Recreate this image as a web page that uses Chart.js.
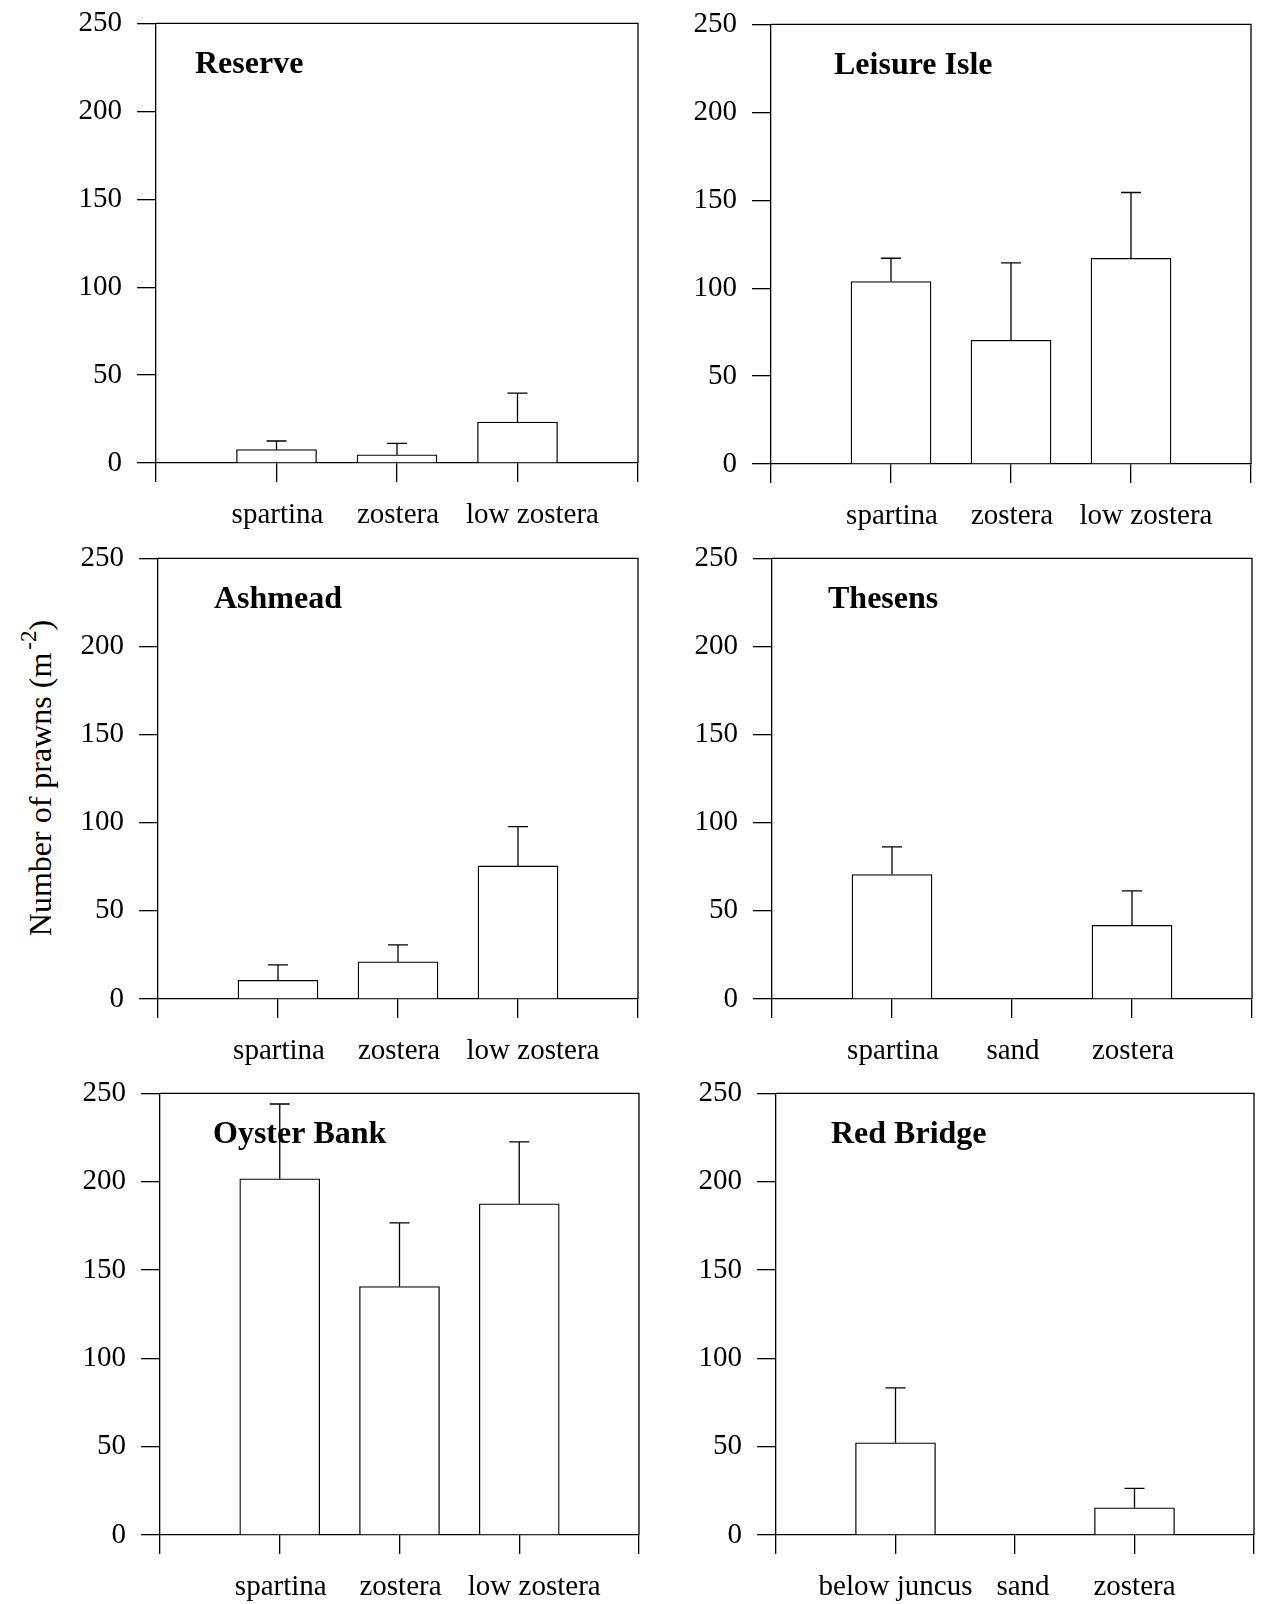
<!DOCTYPE html>
<html>
<head>
<meta charset="utf-8">
<script src="https://cdn.jsdelivr.net/npm/chart.js@4.4.0/dist/chart.umd.min.js"></script>
<style>
  body { margin: 0; background: #fff; width: 1262px; height: 1604px; position: relative; overflow: hidden; }
  canvas { position: absolute; }
  #ylab {
    position: absolute; left: 36px; top: 778px;
    font-family: "Liberation Serif", "Times New Roman", serif; font-size: 32px; color: #000;
    white-space: nowrap; line-height: 1;
    transform: translate(-50%, -50%) rotate(-90deg);
  }
  #ylab sup { font-size: 23px; vertical-align: 15px; margin-left: 3px; }
</style>
</head>
<body>
<div id="ylab">Number of prawns (m<sup>-2</sup>)</div>
<script>
// values (mean and upper error bar length)
var sites = ['Reserve', 'Leisure Isle', 'Ashmead', 'Thesens', 'Oyster Bank', 'Red Bridge'];
var habitats = [
  ['spartina', 'zostera', 'low zostera'],
  ['spartina', 'zostera', 'low zostera'],
  ['spartina', 'zostera', 'low zostera'],
  ['spartina', 'sand', 'zostera'],
  ['spartina', 'zostera', 'low zostera'],
  ['below juncus', 'sand', 'zostera']
];
var means = [
  [7.6, 4.7, 23.3],
  [103.8, 70.4, 117],
  [10.6, 21.1, 75.5],
  [70.6, 0, 41.8],
  [201.7, 140.7, 187.5],
  [52.2, 0, 15.4]
];
var errors = [
  [4.9, 6.5, 16.4],
  [13.2, 44, 37.4],
  [8.8, 9.6, 22.3],
  [15.7, 0, 19.6],
  [42.3, 36, 35.1],
  [31.1, 0, 11]
];
var yMax = 250;
var yStep = 50;

// plot area of each panel on the page: left, top, right, bottom(zero line); title offset
var boxes = [
  [156, 23, 638, 463, 39],
  [771, 24, 1251, 464, 63],
  [158, 558, 638, 999, 56],
  [772, 558, 1252, 999, 56],
  [160, 1093, 639, 1535, 53],
  [776, 1093, 1254, 1535, 55]
];
// horizontal nudge of each category label from its tick
var labelShift = [
  [1, 1, 15],
  [1, 1, 15],
  [1, 1, 15],
  [1, 1, 1],
  [1, 1, 15],
  [0, 8, 0]
];

var AX_W = 80, AX_H = 80, PAD = 30;
var LW = 1.3;
var SERIF = '"Liberation Serif", "Times New Roman", serif';

Chart.defaults.font.family = SERIF;
Chart.defaults.color = '#000';

var panelPlugin = {
  id: 'panel',
  afterDatasetsDraw: function (chart, args, opts) {
    var ctx = chart.ctx, a = chart.chartArea;
    var xs = chart.scales.x, ys = chart.scales.y;
    var meta = chart.getDatasetMeta(0);
    ctx.save();
    ctx.strokeStyle = '#000';
    ctx.lineWidth = LW;
    // top and right edges of the frame
    ctx.beginPath();
    ctx.moveTo(a.left, a.top);
    ctx.lineTo(a.right, a.top);
    ctx.lineTo(a.right, a.bottom);
    ctx.stroke();
    // error bars (upper only)
    opts.errs.forEach(function (e, i) {
      if (!e) return;
      var bar = meta.data[i + 1];
      var m = opts.vals[i];
      var y0 = ys.getPixelForValue(m);
      var y1 = ys.getPixelForValue(m + e);
      ctx.beginPath();
      ctx.moveTo(bar.x, y0);
      ctx.lineTo(bar.x, y1);
      ctx.moveTo(bar.x - 10, y1);
      ctx.lineTo(bar.x + 10, y1);
      ctx.stroke();
    });
    ctx.fillStyle = '#000';
    // category labels
    ctx.font = '29px ' + SERIF;
    ctx.textAlign = 'center';
    ctx.textBaseline = 'alphabetic';
    opts.cats.forEach(function (c, i) {
      ctx.fillText(c, xs.getPixelForValue(i + 1) + opts.shift[i], a.bottom + 60);
    });
    // site name
    ctx.font = 'bold 32px ' + SERIF;
    ctx.textAlign = 'left';
    ctx.textBaseline = 'middle';
    ctx.fillText(opts.title, a.left + opts.tx, a.top + 41);
    ctx.restore();
  }
};

function makeChart(cv, p, w, h) {
  var b = boxes[p];
  cv.width = w; cv.height = h;
  var labels = [''].concat(habitats[p], ['']);
  var data = [null].concat(means[p], [null]);
  return new Chart(cv, {
    type: 'bar',
    data: {
      labels: labels,
      datasets: [{
        data: data,
        backgroundColor: '#fff',
        borderColor: '#000',
        borderWidth: LW,
        barThickness: 80
      }]
    },
    options: {
      responsive: false,
      maintainAspectRatio: false,
      animation: false,
      devicePixelRatio: 1,
      layout: { padding: { top: PAD, right: PAD, left: 0, bottom: 0 } },
      plugins: {
        legend: { display: false },
        tooltip: { enabled: false },
        panel: { title: sites[p], tx: b[4], vals: means[p], errs: errors[p], cats: habitats[p], shift: labelShift[p] }
      },
      scales: {
        x: {
          type: 'category',
          offset: false,
          grid: { offset: false, drawOnChartArea: false, tickLength: 19, color: '#000', lineWidth: LW },
          border: { color: '#000', width: LW },
          ticks: { display: false },
          afterFit: function (s) { s.height = AX_H; }
        },
        y: {
          min: 0, max: yMax,
          grid: { drawOnChartArea: false, tickLength: 19, color: '#000', lineWidth: LW },
          border: { color: '#000', width: LW },
          ticks: { stepSize: yStep, padding: 15, font: { size: 29 }, color: '#000' },
          afterFit: function (s) { s.width = AX_W; }
        }
      }
    },
    plugins: [panelPlugin]
  });
}

sites.forEach(function (site, p) {
  var b = boxes[p];
  var cv = document.createElement('canvas');
  document.body.appendChild(cv);
  var w = (b[2] - b[0]) + AX_W + PAD;
  var h = (b[3] - b[1]) + AX_H + PAD;
  var chart = makeChart(cv, p, w, h);

  // rebuild with a corrected canvas size so the plot area matches the panel
  var a = chart.chartArea;
  var nw = w + (b[2] - b[0]) - (a.right - a.left);
  var nh = h + (b[3] - b[1]) - (a.bottom - a.top);
  if (nw !== w || nh !== h) {
    chart.destroy();
    chart = makeChart(cv, p, Math.round(nw), Math.round(nh));
  }
  a = chart.chartArea;
  cv.style.left = (b[0] - a.left) + 'px';
  cv.style.top = (b[1] - a.top) + 'px';
});
</script>
</body>
</html>
